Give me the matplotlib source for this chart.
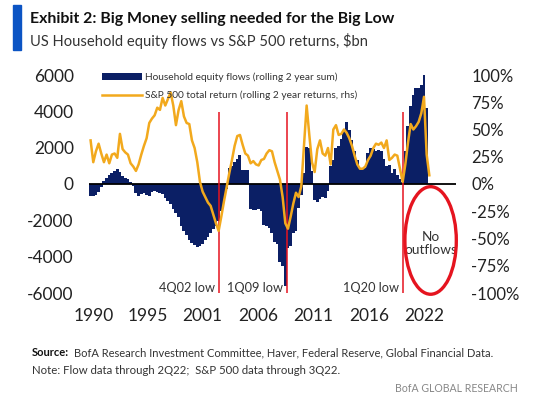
import matplotlib
matplotlib.use("Agg")
import matplotlib.pyplot as plt
from matplotlib.patches import Ellipse, Patch, Rectangle
from matplotlib.lines import Line2D
import numpy as np

plt.rcParams['font.family'] = ['Lato', 'DejaVu Sans']
plt.rcParams['axes.unicode_minus'] = False

# quarterly data, first point is 4Q90
start_year = 1990.75

# household equity flows, rolling 2 year sum ($bn), through 2Q22
flows = [
    -650,
    -650, -600, -450, -150,      # 1991
    150, 350, 480, 620,          # 1992
    700, 800, 650, 450,          # 1993
    350, 250, 120, -100,         # 1994
    -500, -650, -550, -500,      # 1995
    -600, -650, -450, -400,      # 1996
    -450, -500, -550, -750,      # 1997
    -950, -1100, -1400, -1600,   # 1998
    -1800, -2300, -2600, -2800,  # 1999
    -3100, -3250, -3350, -3450,  # 2000
    -3400, -3300, -3100, -2900,  # 2001
    -2700, -2500, -2300, -2050,  # 2002
    -1500, -1000, -300, 900,     # 2003
    1000, 1200, 1400, 1600,      # 2004
    750, 780, 750, -1400,        # 2005
    -1450, -1450, -1400, -1500,  # 2006
    -2250, -2300, -2400, -2700,  # 2007
    -3200, -3300, -4300, -4500,  # 2008
    -5600, -3500, -3400, -2700,  # 2009
    -2600, -1300, -600, 600,     # 2010
    2050, 2000, 700, -900,       # 2011
    -1000, -850, -700, -750,     # 2012
    -400, 1000, 1300, 2000,      # 2013
    2100, 2500, 2900, 3400,      # 2014
    3000, 2400, 1800, 1300,      # 2015
    900, 850, 900, 1700,         # 2016
    2000, 1900, 1800, 1850,      # 2017
    1800, 1400, 1000, 1050,      # 2018
    600, 800, 500, 300,          # 2019
    100, 1800, 3200, 4300,       # 2020
    4900, 5300, 5300, 5450,      # 2021
    6000, 4200,                  # 2022
]

# S&P 500 total return, rolling 2 years (%), through 3Q22
spx_ret = [
    40,
    20, 30, 37, 28,      # 1991
    20, 27, 19, 27,      # 1992
    28, 24, 46, 32,      # 1993
    29, 27, 19, 16,      # 1994
    12, 18, 27, 35,      # 1995
    42, 56, 60, 63,      # 1996
    70, 68, 79, 72,      # 1997
    78, 84, 72, 54,      # 1998
    68, 76, 62, 56,      # 1999
    55, 40, 33, 20,      # 2000
    2, -7, -12, -17,     # 2001
    -20, -28, -36, -43,  # 2002
    -30, -16, -3, 10,    # 2003
    22, 35, 44, 45,      # 2004
    36, 28, 26, 19,      # 2005
    21, 18, 17, 22,      # 2006
    23, 28, 31, 30,      # 2007
    20, 12, 4, -12,      # 2008
    -36, -41, -30, -18,  # 2009
    -8, -12, -2, 35,     # 2010
    72, 45, 20, 11,      # 2011
    32, 40, 28, 26,      # 2012
    33, 18, 50, 54,      # 2013
    45, 46, 50, 47,      # 2014
    42, 35, 26, 18,      # 2015
    14, 14, 16, 22,      # 2016
    26, 33, 37, 36,      # 2017
    38, 33, 40, 22,      # 2018
    24, 27, 26, 14,      # 2019
    2, 18, 38, 55,       # 2020
    50, 53, 57, 65,      # 2021
    80, 27, 8,           # 2022
]

low_labels = ["4Q02 low", "1Q09 low", "1Q20 low"]
low_dates = [2002.75, 2009.15, 2020.0]

year_labels = ["1990", "1995", "2001", "2006", "2011", "2016", "2022"]
year_ticks = [1991.05, 1996.15, 2001.25, 2006.5, 2011.65, 2016.9, 2022.05]

flow_ticks = [-6000, -4000, -2000, 0, 2000, 4000, 6000]
ret_ticks = [-100, -75, -50, -25, 0, 25, 50, 75, 100]

legend_labels = ["Household equity flows (rolling 2 year sum)",
                 "S&P 500 total return (rolling 2 year returns, rhs)"]

NAVY = '#0b1f65'
GOLD = '#f2a91d'
RED = '#e5141f'
BLUE = '#0b54c4'
TXT = '#222222'

W, H = 533, 399
fig = plt.figure(figsize=(W / 100, H / 100), dpi=100)
fig.patch.set_facecolor('white')

ax = fig.add_axes([89 / W, 1 - 293 / H, (456 - 89) / W, (293 - 75) / H])
qx = start_year + 0.25 * np.arange(len(flows))
sx = start_year + 0.25 * np.arange(len(spx_ret))

ax.bar(qx, flows, width=0.28, color=NAVY, linewidth=0, antialiased=False)
ax.axhline(0, color='black', lw=1.3, zorder=3)
ax.set_ylim(-6000, 6000)
ax.set_xlim(1990.6, 2025.0)
ax.set_yticks(flow_ticks)
ax.set_yticklabels([str(v) for v in flow_ticks])
ax.set_xticks(year_ticks)
ax.set_xticklabels(year_labels)
ax.tick_params(axis='y', length=0, pad=11, labelsize=12.5, colors=TXT)
ax.tick_params(axis='x', length=0, pad=11, labelsize=12.5, colors=TXT)

ax2 = ax.twinx()
ax2.set_ylim(-100, 100)
ax2.set_yticks(ret_ticks)
ax2.set_yticklabels([f"{v}%" for v in ret_ticks])
ax2.tick_params(axis='y', length=0, pad=11, labelsize=12, colors=TXT)

# red markers for the market lows
ax2.vlines(low_dates, -100, 66, color=RED, lw=1.1, zorder=2)
for d, lab in zip(low_dates, low_labels):
    ax2.text(d - 0.35, -95.5, lab, ha='right', va='center', fontsize=9.2, color='#333333')

ax2.plot(sx, spx_ret, color=GOLD, lw=1.8, zorder=4)

for a in (ax, ax2):
    for s in a.spines.values():
        s.set_visible(False)

# "no outflows" circle
ax2.add_patch(Ellipse((2022.62, -51.8), 4.82, 98.7, fill=False, ec=RED, lw=2.4,
                      clip_on=False, zorder=5))
ax2.text(2022.6, -54.5, "No\noutflows", ha='center', va='center', fontsize=9.8,
         color='#333333', linespacing=1.15)

handles = [Patch(facecolor=NAVY, edgecolor='none'), Line2D([], [], color=GOLD, lw=1.8)]
leg = ax2.legend(handles, legend_labels, loc='upper left', bbox_to_anchor=(0.035, 1.012),
                 frameon=False, fontsize=7.3, handlelength=4.0, handleheight=0.7,
                 handletextpad=0.25, labelspacing=0.85, borderpad=0, borderaxespad=0)
for t in leg.get_texts():
    t.set_color('#333333')

# header
fig.patches.append(Rectangle((12.6 / W, 1 - 49.5 / H), 8 / W, 44.5 / H,
                             transform=fig.transFigure, color=BLUE, figure=fig))
fig.text(30 / W, 1 - 19.5 / H, "Exhibit 2: Big Money selling needed for the Big Low",
         fontsize=11.4, fontweight='bold', color='#111111', va='center')
fig.text(30 / W, 1 - 41 / H, "US Household equity flows vs S&P 500 returns, $bn",
         fontsize=10.6, color='#333333', va='center')

# footer
src = fig.text(31.8 / W, 1 - 353 / H, "Source:", fontsize=8, fontweight='bold',
               color='#111111', va='center')
fig.canvas.draw()
src_end = src.get_window_extent().x1
fig.text((src_end + 5) / W, 1 - 353 / H,
         "BofA Research Investment Committee, Haver, Federal Reserve, Global Financial Data.",
         fontsize=8, color='#333333', va='center')
fig.text(31.8 / W, 1 - 370.5 / H, "Note: Flow data through 2Q22;  S&P 500 data through 3Q22.",
         fontsize=8.2, color='#333333', va='center')
fig.text(517.6 / W, 1 - 388.6 / H, "BofA GLOBAL RESEARCH", fontsize=7.6, color='#888888',
         va='center', ha='right')

fig.savefig('out.png', dpi=100, facecolor='white')
